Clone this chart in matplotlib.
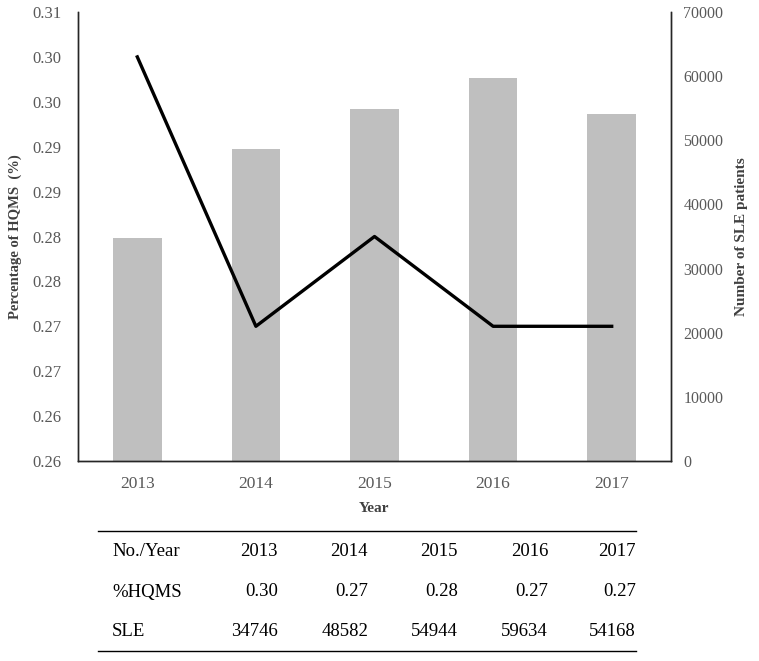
import matplotlib
matplotlib.use("Agg")
import matplotlib.pyplot as plt
import numpy as np

years = ["2013", "2014", "2015", "2016", "2017"]
hqms = [0.305, 0.275, 0.285, 0.275, 0.275]
sle = [34746, 48582, 54944, 59634, 54168]
hqms_table = ["0.30", "0.27", "0.28", "0.27", "0.27"]
left_ticks = [0.26, 0.265, 0.27, 0.275, 0.28, 0.285, 0.29, 0.295, 0.30, 0.305, 0.31]
left_labels = ["0.26", "0.26", "0.27", "0.27", "0.28", "0.28", "0.29", "0.29", "0.30", "0.30", "0.31"]
right_ticks = [0, 10000, 20000, 30000, 40000, 50000, 60000, 70000]

plt.rcParams['font.family'] = ['Liberation Serif', 'Noto Sans CJK SC']
tick_col = '#595959'

fig = plt.figure(figsize=(7.59, 6.61), dpi=100)
ax = fig.add_axes([78/759, 1-461/661, (671-78)/759, (461-12)/661])
ax2 = ax.twinx()

x = np.arange(len(years))
ax2.bar(x, sle, width=0.41, color='#bfbfbf', zorder=1)
ax2.set_ylim(0, 70000)
ax2.set_yticks(right_ticks)
ax2.set_yticklabels([str(t) for t in right_ticks], color=tick_col, fontsize=11.5)
ax2.tick_params(axis='y', length=0, pad=9)
ax2.set_ylabel("Number of SLE patients", fontsize=11, fontweight='bold',
               color='#404040', labelpad=8)

# line on top of bars
ax.set_zorder(ax2.get_zorder() + 1)
ax.patch.set_visible(False)
ax.plot(x, hqms, color='black', lw=2.4)
ax.set_ylim(0.26, 0.31)
ax.set_xlim(-0.5, 4.5)
ax.set_yticks(left_ticks)
ax.set_yticklabels(left_labels, color=tick_col, fontsize=12)
ax.set_xticks(x)
ax.set_xticklabels(years, color=tick_col, fontsize=12.5)
ax.tick_params(axis='both', length=0)
ax.tick_params(axis='y', pad=12)
ax.tick_params(axis='x', pad=11)
ax.set_ylabel("Percentage of HQMS  (%)", fontsize=10.5, fontweight='bold',
              color='#404040', labelpad=7)
ax.set_xlabel("Year", fontsize=11, fontweight='bold', color='#404040', labelpad=7)

for a in (ax, ax2):
    a.spines['top'].set_visible(False)
    for s in ('left', 'right', 'bottom'):
        a.spines[s].set_color('#262626')
        a.spines[s].set_linewidth(1.0)

# table below the chart
def fx(px):
    return px / 759
def fy(py):
    return 1 - py / 661

fig.add_artist(plt.Line2D([fx(98), fx(636)], [fy(531), fy(531)], color='black', lw=1.0))
fig.add_artist(plt.Line2D([fx(98), fx(636)], [fy(651), fy(651)], color='black', lw=1.0))

rows = [("No./Year", years), ("%HQMS", hqms_table), ("SLE", [str(v) for v in sle])]
row_y = [552, 592, 632]
col_right = [278, 368, 458, 548, 636]
for (label, vals), ry in zip(rows, row_y):
    fig.text(fx(112), fy(ry), label, fontsize=13.5, ha='left', va='center', color='black')
    for v, cx in zip(vals, col_right):
        fig.text(fx(cx), fy(ry), v, fontsize=13.5, ha='right', va='center', color='black')

fig.savefig("out.png", dpi=100)
